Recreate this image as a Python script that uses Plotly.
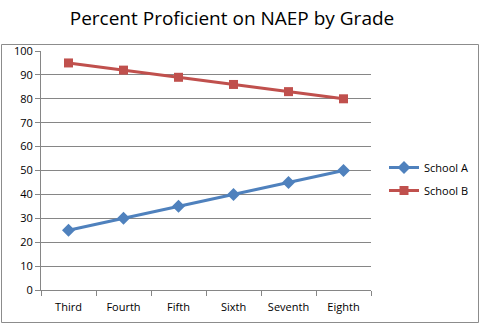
import plotly.graph_objects as go

grades = ["Third", "Fourth", "Fifth", "Sixth", "Seventh", "Eighth"]
school_a = [25, 30, 35, 40, 45, 50]
school_b = [95, 92, 89, 86, 83, 80]
y_ticks = list(range(0, 101, 10))

W, H = 481, 325
L, R, T, B = 41, 371, 51, 290  # plot area in pixels


def px_x(p):
    return (p - L) / (R - L)


def px_y(p):
    return (B - p) / (B - T)


fig = go.Figure()
fig.add_trace(go.Scatter(
    x=grades, y=school_a, name="School A", mode="lines+markers",
    legendgroup="a",
    line=dict(color="#4F81BD", width=3),
    marker=dict(symbol="diamond", size=10, color="#4F81BD"),
))
fig.add_trace(go.Scatter(
    x=grades, y=school_b, name="School B", mode="lines+markers",
    legendgroup="b",
    line=dict(color="#C0504D", width=3),
    marker=dict(symbol="square", size=9, color="#C0504D"),
))

# outer chart frame
fig.add_shape(type="rect", xref="paper", yref="paper",
              x0=px_x(1.5), x1=px_x(478.5), y0=px_y(322.5), y1=px_y(44.5),
              line=dict(color="#8C8C8C", width=1), fillcolor="rgba(0,0,0,0)",
              layer="below")

fig.update_layout(
    width=W, height=H,
    margin=dict(l=L, r=W - R, t=T, b=H - B, pad=0, autoexpand=False),
    paper_bgcolor="white", plot_bgcolor="white",
    font=dict(family="Open Sans, sans-serif", size=11, color="#000000"),
    title=dict(text="Percent Proficient on NAEP by Grade",
               x=232 / W, xanchor="center", xref="container",
               y=1 - 18 / H, yanchor="middle",
               font=dict(family="Open Sans, sans-serif", size=19, color="#000000")),
    showlegend=True,
    legend=dict(xref="container", yref="container",
                x=384 / W, y=1 - 153 / H, xanchor="left", yanchor="top",
                font=dict(size=11), bgcolor="rgba(0,0,0,0)",
                itemwidth=30, tracegroupgap=4),
    xaxis=dict(type="category", range=[-0.5, 5.5], tickson="boundaries",
               ticks="outside", ticklen=5, tickcolor="#868686",
               ticklabelstandoff=7,
               showline=True, linecolor="#868686", linewidth=1,
               showgrid=False, zeroline=False, fixedrange=True),
    yaxis=dict(range=[0, 100], tickvals=y_ticks,
               ticks="outside", ticklen=5, tickcolor="#868686",
               showline=True, linecolor="#868686", linewidth=1,
               showgrid=True, gridcolor="#868686", gridwidth=1,
               zeroline=False, fixedrange=True),
)

fig.write_html("out.html")
